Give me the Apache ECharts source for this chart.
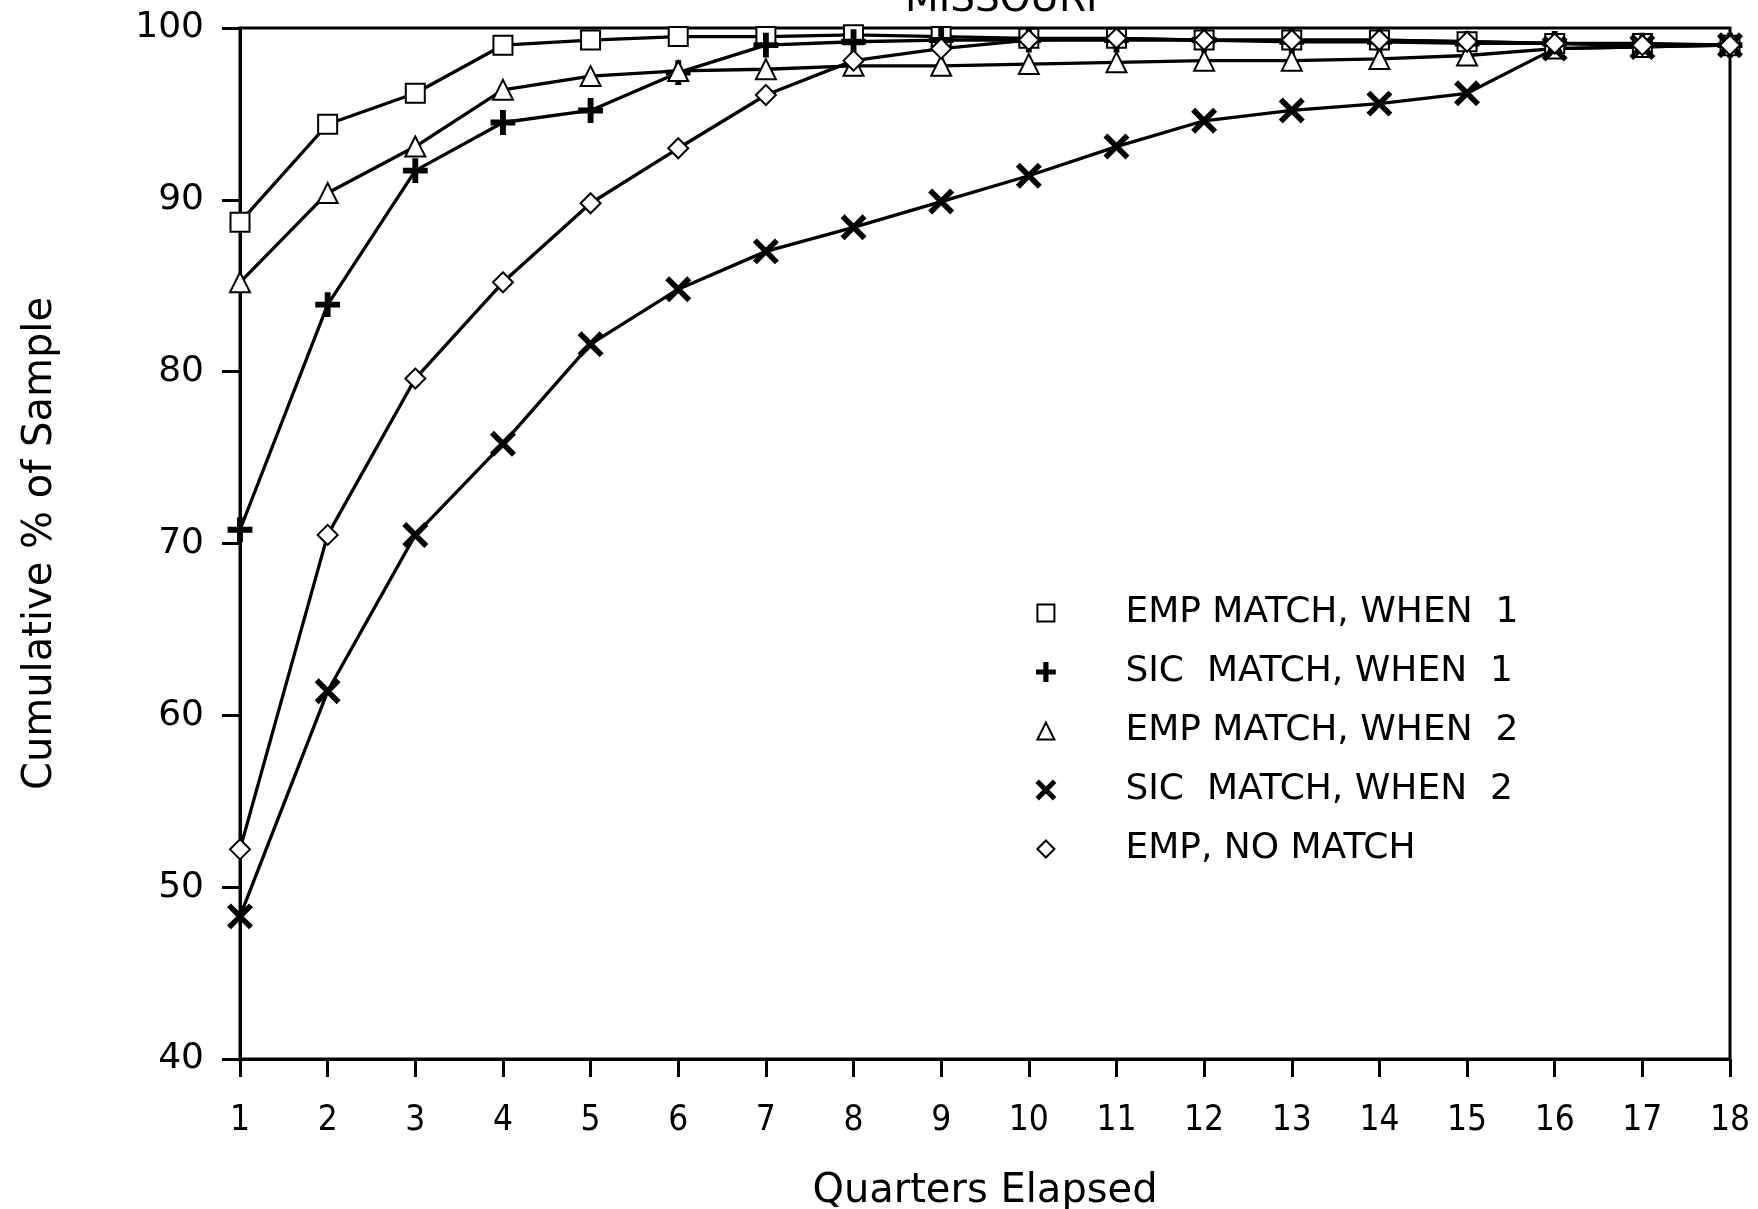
<!DOCTYPE html>
<html>
<head>
<meta charset="utf-8">
<script src="https://cdn.jsdelivr.net/npm/echarts@6/dist/echarts.min.js"></script>
<style>
html,body{margin:0;padding:0;background:#fff;}
#chart{width:1758px;height:1209px;}
</style>
</head>
<body>
<div id="chart"></div>
<script>
var quarters = [1,2,3,4,5,6,7,8,9,10,11,12,13,14,15,16,17,18];
var yTicks = [40,50,60,70,80,90,100];
var seriesNames = ['EMP MATCH, WHEN  1','SIC  MATCH, WHEN  1','EMP MATCH, WHEN  2','SIC  MATCH, WHEN  2','EMP, NO MATCH'];
var empMatch1  = [88.7,94.4,96.2,99.0,99.3,99.5,99.5,99.6,99.5,99.4,99.4,99.3,99.3,99.3,99.2,99.1,99.1,99.0];
var sicMatch1  = [70.8,83.9,91.7,94.5,95.2,97.4,99.0,99.2,99.3,99.3,99.3,99.3,99.2,99.2,99.1,99.1,99.0,99.0];
var empMatch2  = [85.2,90.4,93.1,96.4,97.2,97.5,97.6,97.8,97.8,97.9,98.0,98.1,98.1,98.2,98.4,98.8,98.9,99.0];
var sicMatch2  = [48.3,61.4,70.5,75.8,81.6,84.8,87.0,88.4,89.9,91.4,93.1,94.6,95.2,95.6,96.2,98.8,98.9,99.0];
var empNoMatch = [52.2,70.5,79.6,85.2,89.8,93.0,96.1,98.1,98.8,99.3,99.4,99.3,99.3,99.3,99.2,99.1,99.0,99.0];

var PLUS = 'path://M-1.4,-10 L1.4,-10 L1.4,-1.4 L10,-1.4 L10,1.4 L1.4,1.4 L1.4,10 L-1.4,10 L-1.4,1.4 L-10,1.4 L-10,-1.4 L-1.4,-1.4 Z';
var CROSS = 'path://M-10,-8.2 L-8.2,-10 L10,8.2 L8.2,10 Z M8.2,-10 L10,-8.2 L-8.2,10 L-10,8.2 Z';

function pairs(vals){ return quarters.map(function(q,i){ return [q, vals[i]]; }); }

var defs = [
  {name: seriesNames[0], data: empMatch1, symbol: 'emptyRect', size: 19},
  {name: seriesNames[1], data: sicMatch1, symbol: PLUS, size: 22},
  {name: seriesNames[2], data: empMatch2, symbol: 'emptyTriangle', size: 20},
  {name: seriesNames[3], data: sicMatch2, symbol: CROSS, size: 22},
  {name: seriesNames[4], data: empNoMatch, symbol: 'emptyDiamond', size: 20}
];

var chart = echarts.init(document.getElementById('chart'), null, {renderer:'canvas'});
var font = 'DejaVu Sans';
chart.setOption({
  backgroundColor: '#ffffff',
  animation: false,
  title: {
    text: 'MISSOURI',
    left: 905, top: -19, padding: 0,
    textStyle: {fontFamily: font, fontSize: 39, fontWeight: 'normal', color: '#000'}
  },
  grid: {left: 240, right: 28, top: 28, bottom: 150, show: true, borderColor: '#000', borderWidth: 3,
    backgroundColor: 'transparent', containLabel: false, outerBoundsMode: 'none'},
  legend: {
    orient: 'vertical',
    left: 1031, top: 588,
    itemWidth: 17, itemHeight: 17, itemGap: 19,
    selectedMode: false,
    data: defs.map(function(d){ return {name: d.name, icon: d.symbol}; }),
    textStyle: {fontFamily: font, fontSize: 36, color: '#000', lineHeight: 40, padding: [0,0,0,66]},
    itemStyle: {color: '#000', borderColor: '#000', borderWidth: 2.8}
  },
  xAxis: {
    type: 'value', min: 1, max: 18, interval: 1,
    name: 'Quarters Elapsed', nameLocation: 'middle', nameGap: 113,
    nameTextStyle: {fontFamily: font, fontSize: 40, color: '#000'},
    axisLine: {lineStyle: {color: '#000', width: 3}},
    axisTick: {show: true, length: 18, lineStyle: {color: '#000', width: 3}},
    axisLabel: {fontFamily: '"Liberation Sans Narrow","DejaVu Sans Condensed",sans-serif', fontSize: 35, color: '#000', margin: 44,
      formatter: function(v){ return quarters.indexOf(v) >= 0 ? String(v) : ''; }},
    splitLine: {show: false}
  },
  yAxis: {
    type: 'value', min: 40, max: 100, interval: 10,
    name: 'Cumulative % of Sample', nameLocation: 'middle', nameGap: 179,
    nameTextStyle: {fontFamily: font, fontSize: 40, color: '#000'},
    axisLine: {show: true, lineStyle: {color: '#000', width: 3}},
    axisTick: {show: true, length: 18, lineStyle: {color: '#000', width: 3}},
    axisLabel: {fontFamily: font, fontSize: 36, color: '#000', margin: 36,
      formatter: function(v){ return yTicks.indexOf(v) >= 0 ? String(v) : ''; }},
    splitLine: {show: false}
  },
  series: defs.map(function(d){
    return {
      type: 'line', name: d.name, data: pairs(d.data),
      symbol: d.symbol, symbolSize: d.size, showAllSymbol: true,
      lineStyle: {color: '#000', width: 3.3},
      itemStyle: {color: '#000', borderColor: '#000', borderWidth: 2.8},
      emphasis: {disabled: true}
    };
  })
});
</script>
</body>
</html>
